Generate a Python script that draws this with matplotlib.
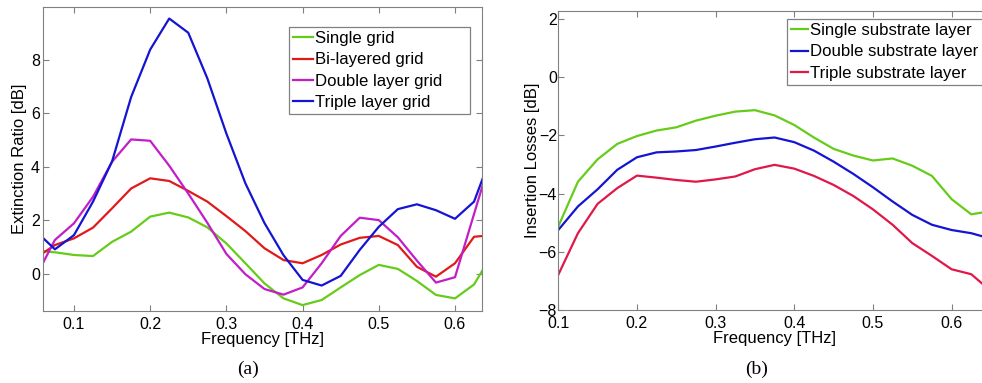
import numpy as np
import matplotlib
matplotlib.use("Agg")
import matplotlib.pyplot as plt

plt.rcParams["font.family"] = ["Liberation Sans", "DejaVu Sans"]

# (a) extinction ratio
freq_a = np.round(np.arange(0.05, 0.651, 0.025), 3)
single_grid = [0.88, 0.81, 0.71, 0.67, 1.2, 1.58, 2.14, 2.29, 2.11, 1.74, 1.14, 0.4, -0.35,
               -0.91, -1.16, -0.97, -0.5, -0.04, 0.34, 0.19, -0.26, -0.78, -0.91, -0.39, 0.8]
bi_grid = [0.6, 1.08, 1.33, 1.73, 2.45, 3.19, 3.57, 3.47, 3.1, 2.7, 2.16, 1.6, 0.96,
           0.52, 0.4, 0.71, 1.1, 1.35, 1.42, 1.08, 0.27, -0.1, 0.4, 1.39, 1.45]
double_grid = [-0.1, 1.27, 1.89, 2.88, 4.19, 5.02, 4.97, 4.04, 3.0, 1.91, 0.75, -0.01, -0.56,
               -0.77, -0.5, 0.4, 1.42, 2.1, 2.01, 1.37, 0.5, -0.32, -0.12, 2.24, 4.6]
triple_grid = [1.6, 0.92, 1.45, 2.7, 4.2, 6.6, 8.37, 9.53, 9.0, 7.3, 5.24, 3.38, 1.9,
               0.7, -0.22, -0.43, -0.07, 0.9, 1.76, 2.42, 2.6, 2.38, 2.06, 2.7, 4.6]

# (b) insertion losses
freq_b = np.round(np.arange(0.1, 0.651, 0.025), 3)
single_sub = [-5.13, -3.59, -2.82, -2.29, -2.02, -1.83, -1.72, -1.49, -1.32, -1.18, -1.13, -1.31,
              -1.64, -2.07, -2.46, -2.69, -2.86, -2.79, -3.04, -3.39, -4.19, -4.71, -4.6]
double_sub = [-5.25, -4.44, -3.85, -3.18, -2.75, -2.58, -2.55, -2.5, -2.38, -2.25, -2.13, -2.07,
              -2.23, -2.52, -2.9, -3.32, -3.78, -4.27, -4.73, -5.07, -5.25, -5.36, -5.55]
triple_sub = [-6.79, -5.36, -4.35, -3.81, -3.38, -3.45, -3.53, -3.59, -3.51, -3.41, -3.16, -3.01,
              -3.14, -3.39, -3.7, -4.08, -4.54, -5.07, -5.7, -6.14, -6.6, -6.77, -7.35]

green = "#66cc1a"
red = "#e01a1a"
magenta = "#c21ec8"
blue = "#1414d2"
crimson = "#e0184a"

fig = plt.figure(figsize=(9.82, 3.83), dpi=100)
ax1 = fig.add_axes([0.0435, 0.188, 0.447, 0.793])
ax2 = fig.add_axes([0.5685, 0.1906, 0.4406, 0.7815])


def style(ax, ypad):
    for s in ax.spines.values():
        s.set_color("#808080")
    ax.tick_params(direction="in", top=True, right=True, color="#808080",
                   labelsize=11.5, length=4)
    ax.tick_params(axis="x", pad=4)
    ax.tick_params(axis="y", pad=ypad)


def legend(ax, anchor, hl):
    # box anchored at its top-left corner and stretched to the given width
    leg = ax.legend(loc="upper left", bbox_to_anchor=anchor, mode="expand",
                    fontsize=12.1, handlelength=hl, handletextpad=0.15, borderpad=0.25,
                    labelspacing=0.37, fancybox=False, framealpha=1,
                    edgecolor="#808080", borderaxespad=0)
    leg.get_frame().set_linewidth(0.9)
    return leg


lw = 1.6
ax1.plot(freq_a, single_grid, color=green, lw=lw, label="Single grid")
ax1.plot(freq_a, bi_grid, color=red, lw=lw, label="Bi-layered grid")
ax1.plot(freq_a, double_grid, color=magenta, lw=lw, label="Double layer grid")
ax1.plot(freq_a, triple_grid, color=blue, lw=lw, label="Triple layer grid")
ax1.set_xlim(0.059, 0.635)
ax1.set_ylim(-1.38, 9.95)
ax1.set_xticks([0.1, 0.2, 0.3, 0.4, 0.5, 0.6])
ax1.set_yticks([0, 2, 4, 6, 8])
ax1.set_xlabel("Frequency [THz]", fontsize=12, labelpad=0)
ax1.set_ylabel("Extinction Ratio [dB]", fontsize=12, labelpad=3)
style(ax1, 2)
legend(ax1, (0.560, 0.0, 0.413, 0.935), 1.2)

ax2.plot(freq_b, single_sub, color=green, lw=lw, label="Single substrate layer")
ax2.plot(freq_b, double_sub, color=blue, lw=lw, label="Double substrate layer")
ax2.plot(freq_b, triple_sub, color=crimson, lw=lw, label="Triple substrate layer")
ax2.set_xlim(0.1, 0.65)
ax2.set_ylim(-8, 2.29)
ax2.set_xticks([0.1, 0.2, 0.3, 0.4, 0.5, 0.6])
ax2.set_yticks([-8, -6, -4, -2, 0, 2])
ax2.set_xlabel("Frequency [THz]", fontsize=12, labelpad=0)
ax2.set_ylabel("Insertion Losses [dB]", fontsize=12, labelpad=-1)
style(ax2, 1)
legend(ax2, (0.528, 0.0, 0.50, 0.972), 1.0)

fig.text(248 / 982, 1 - 369 / 383, "(a)", ha="center", va="center",
         fontsize=14, family="Liberation Serif")
fig.text(757 / 982, 1 - 369 / 383, "(b)", ha="center", va="center",
         fontsize=14, family="Liberation Serif")

fig.savefig("out.png", dpi=100)
